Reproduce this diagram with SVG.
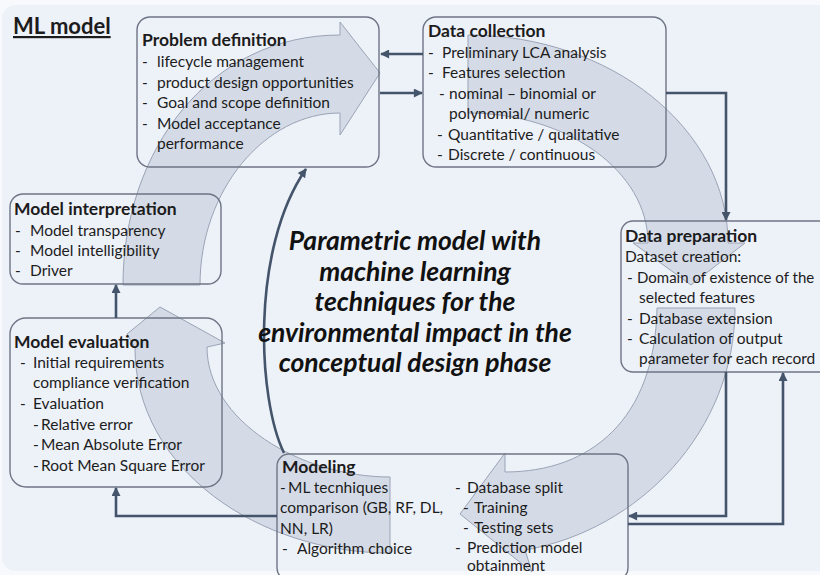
<svg xmlns="http://www.w3.org/2000/svg" width="820" height="575" viewBox="0 0 820 575">
<defs>
<style>
.t{font-family:Lato,"Liberation Sans",sans-serif;font-size:15.5px;fill:#1c1c1c}
.h{font-weight:bold;font-size:17.5px}
.c{font-family:Lato,"Liberation Sans",sans-serif;font-weight:bold;font-style:italic;font-size:26.5px;fill:#111;text-anchor:middle}
.box{fill:none;stroke:#6d7484;stroke-width:1.4}
.arr{fill:#c3cbdb;fill-opacity:0.58;stroke:#9ba3b5;stroke-width:1}
.con{fill:none;stroke:#44546a;stroke-width:2.6;marker-end:url(#ah)}
</style>
<marker id="ah" viewBox="0 0 10 10" refX="9" refY="5" markerWidth="10" markerHeight="9" markerUnits="userSpaceOnUse" orient="auto">
<path d="M0,0 L10,5 L0,10 z" fill="#44546a"/>
</marker>
</defs>
<rect x="0" y="0" width="820" height="575" fill="#f8f9fc"/>
<rect x="2" y="5" width="832" height="566" rx="14" fill="#edf1f8"/>

<g id="cycle-arrows">
<path class="arr" d="M123,285 C123,150 210,35 340,35 L340,22 L380,73 L340,135 L340,113 C265,113 200,190 200,285 Z"/>
<path class="arr" d="M468,35 C611,35 728,129 728,243 L745,243 L691,285 L633,243 L648,243 C648,171.5 567,113 468,113 Z"/>
<path class="arr" d="M657,308 L735,308 C735,430 640,530 525,550 L532,572 L460,514 L505,453 L505,472 C590,472 655,420 657,308 Z"/>
<path class="arr" d="M390,477 L390,553 C260,553 135,470 135,348 L127,334 L160,307 L225,343 L207,347 C207,420 300,477 390,477 Z"/>
</g>

<text class="t h" x="13" y="34" style="font-size:22px;text-decoration:underline">ML model</text>

<g id="problem-definition">
<rect class="box" x="137" y="17" width="242" height="150" rx="13"/>
<text class="t h" x="142" y="46">Problem definition</text>
<text class="t" y="67"><tspan x="142">-</tspan><tspan x="157">lifecycle management</tspan></text>
<text class="t" y="88"><tspan x="142">-</tspan><tspan x="157">product design opportunities</tspan></text>
<text class="t" y="108"><tspan x="142">-</tspan><tspan x="157">Goal and scope definition</tspan></text>
<text class="t" y="129"><tspan x="142">-</tspan><tspan x="157">Model acceptance</tspan></text>
<text class="t" x="157" y="149">performance</text>
</g>

<g id="data-collection">
<rect class="box" x="423" y="17" width="243" height="150" rx="13"/>
<text class="t h" x="428" y="37">Data collection</text>
<text class="t" y="58"><tspan x="428">-</tspan><tspan x="442">Preliminary LCA analysis</tspan></text>
<text class="t" y="78"><tspan x="428">-</tspan><tspan x="442">Features selection</tspan></text>
<text class="t" y="99"><tspan x="439">-</tspan><tspan x="449">nominal – binomial or</tspan></text>
<text class="t" x="449" y="119">polynomial/ numeric</text>
<text class="t" y="140"><tspan x="437">-</tspan><tspan x="448">Quantitative / qualitative</tspan></text>
<text class="t" y="160"><tspan x="437">-</tspan><tspan x="448">Discrete / continuous</tspan></text>
</g>

<g id="model-interpretation">
<rect class="box" x="10" y="194" width="211" height="90" rx="13"/>
<text class="t h" x="14" y="215">Model interpretation</text>
<text class="t" y="236"><tspan x="15">-</tspan><tspan x="30">Model transparency</tspan></text>
<text class="t" y="256"><tspan x="15">-</tspan><tspan x="30">Model intelligibility</tspan></text>
<text class="t" y="276"><tspan x="15">-</tspan><tspan x="30">Driver</tspan></text>
</g>

<g id="model-evaluation">
<rect class="box" x="10" y="318" width="212" height="169" rx="16"/>
<text class="t h" x="14" y="348">Model evaluation</text>
<text class="t" y="368"><tspan x="20">-</tspan><tspan x="33">Initial requirements</tspan></text>
<text class="t" x="33" y="388">compliance verification</text>
<text class="t" y="409"><tspan x="20">-</tspan><tspan x="33">Evaluation</tspan></text>
<text class="t" y="430"><tspan x="33">-</tspan><tspan x="41">Relative error</tspan></text>
<text class="t" y="450"><tspan x="33">-</tspan><tspan x="41">Mean Absolute Error</tspan></text>
<text class="t" y="471"><tspan x="33">-</tspan><tspan x="41">Root Mean Square Error</tspan></text>
</g>

<g id="data-preparation">
<rect class="box" x="621" y="221" width="212" height="151" rx="12"/>
<text class="t h" x="625" y="242">Data preparation</text>
<text class="t" x="625" y="262">Dataset creation:</text>
<text class="t" y="283"><tspan x="627">-</tspan><tspan x="637" style="font-size:15px">Domain of existence of the</tspan></text>
<text class="t" x="639" y="303">selected features</text>
<text class="t" y="324"><tspan x="627">-</tspan><tspan x="639">Database extension</tspan></text>
<text class="t" y="344"><tspan x="627">-</tspan><tspan x="639">Calculation of output</tspan></text>
<text class="t" x="639" y="364">parameter for each record</text>
</g>

<g id="modeling">
<rect class="box" x="277" y="454" width="351" height="126" rx="12"/>
<text class="t h" x="282" y="473">Modeling</text>
<text class="t" y="493"><tspan x="280">-</tspan><tspan x="288">ML tecnhiques</tspan></text>
<text class="t" x="280" y="513">comparison (GB, RF, DL,</text>
<text class="t" x="280" y="534">NN, LR)</text>
<text class="t" y="554"><tspan x="282">-</tspan><tspan x="297">Algorithm choice</tspan></text>
<text class="t" y="493"><tspan x="455">-</tspan><tspan x="467">Database split</tspan></text>
<text class="t" y="513"><tspan x="463">-</tspan><tspan x="474">Training</tspan></text>
<text class="t" y="533"><tspan x="463">-</tspan><tspan x="474">Testing sets</tspan></text>
<text class="t" y="553"><tspan x="455">-</tspan><tspan x="467">Prediction model</tspan></text>
<text class="t" x="467" y="571">obtainment</text>
</g>

<g id="connectors">
<path class="con" d="M423,54 H381"/>
<path class="con" d="M380,93 H422"/>
<path class="con" d="M666,93 H726 V220"/>
<path class="con" d="M726,372 V516 H629"/>
<path class="con" d="M628,524 H783 V373"/>
<path class="con" d="M277,516 H116 V488"/>
<path class="con" d="M116,318 V285"/>
<path class="con" d="M284,453 C258,400 250,250 306,169"/>
</g>

<g id="center-title">
<text class="c" x="415" y="250">Parametric model with</text>
<text class="c" x="415" y="281">machine learning</text>
<text class="c" x="415" y="311">techniques for the</text>
<text class="c" x="415" y="342">environmental impact in the</text>
<text class="c" x="415" y="372">conceptual design phase</text>
</g>
</svg>
